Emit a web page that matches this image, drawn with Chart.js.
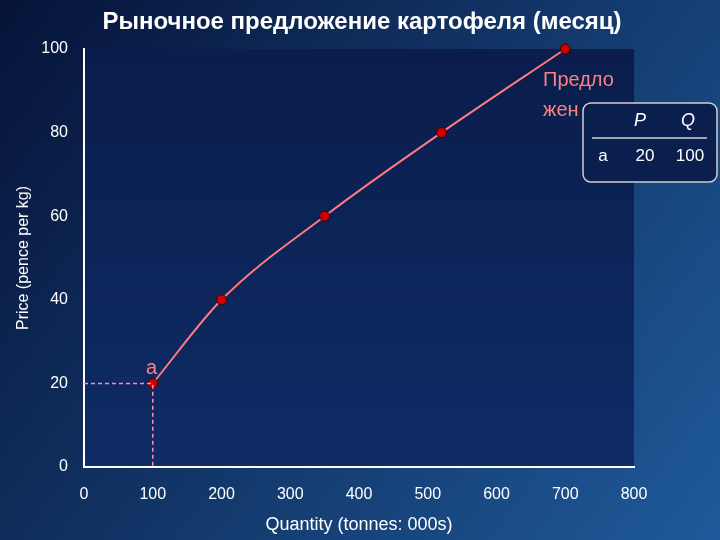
<!DOCTYPE html>
<html><head><meta charset="utf-8">
<script src="https://cdn.jsdelivr.net/npm/chart.js@4"></script>
<style>html,body{margin:0;padding:0;background:#0a1a40}#wrap{width:720px;height:540px}</style>
</head><body><div id="wrap"><canvas id="c" width="720" height="540"></canvas></div>
<script>
const quantity = [100, 200, 350, 520, 700];
const price = [20, 40, 60, 80, 100];
const guideX = [0, 100, 100];
const guideY = [20, 20, 0];
const tableHead = ['P', 'Q'];
const tableRow = ['a', '20', '100'];

const bgPlugin = {
  id: 'bg',
  beforeDraw(chart) {
    const { ctx, chartArea: a, width, height } = chart;
    let g = ctx.createLinearGradient(0, 0, width, height);
    g.addColorStop(0, '#061338');
    g.addColorStop(1, '#1f5a9a');
    ctx.fillStyle = g;
    ctx.fillRect(0, 0, width, height);
    g = ctx.createLinearGradient(0, a.top, 0, a.bottom);
    g.addColorStop(0, '#0a1d4c');
    g.addColorStop(1, '#0f2c66');
    ctx.fillStyle = g;
    ctx.fillRect(a.left, a.top, a.right - a.left, a.bottom - a.top);
  },
  afterDraw(chart) {
    const { ctx } = chart;
    ctx.save();
    ctx.fillStyle = '#ffffff';
    ctx.font = 'bold 24px "Liberation Sans", Arial';
    ctx.textAlign = 'center';
    ctx.textBaseline = 'middle';
    ctx.fillText('Рыночное предложение картофеля (месяц)', 362, 22);
    ctx.fillStyle = '#ff8080';
    ctx.font = '20px "Liberation Sans", Arial';
    ctx.textAlign = 'left';
    ctx.fillText('Предло', 543, 80);
    ctx.fillText('жен', 543, 110);
    ctx.fillText('а', 146, 368);
    ctx.fillStyle = '#0b1f4e';
    ctx.strokeStyle = '#d0d0d0';
    ctx.lineWidth = 1.5;
    ctx.beginPath();
    ctx.roundRect(583, 103, 134, 79, 8);
    ctx.fill();
    ctx.stroke();
    ctx.fillStyle = '#ffffff';
    ctx.textAlign = 'center';
    ctx.font = 'italic 18px "Liberation Sans", Arial';
    ctx.fillText(tableHead[0], 640, 121);
    ctx.fillText(tableHead[1], 688, 121);
    ctx.beginPath();
    ctx.moveTo(592, 138); ctx.lineTo(707, 138); ctx.stroke();
    ctx.font = '17px "Liberation Sans", Arial';
    ctx.fillText(tableRow[0], 603, 156);
    ctx.fillText(tableRow[1], 645, 156);
    ctx.fillText(tableRow[2], 690, 156);
    ctx.restore();
  }
};

new Chart(document.getElementById('c'), {
  type: 'scatter',
  data: {
    datasets: [
      { data: guideX.map((x, i) => ({ x, y: guideY[i] })), showLine: true, borderColor: '#ff8fb0', borderDash: [4, 3], borderWidth: 1.5, pointRadius: 0 },
      { data: quantity.map((x, i) => ({ x, y: price[i] })), showLine: true, clip: false, cubicInterpolationMode: 'monotone', borderColor: '#ff7a80', borderWidth: 2, pointRadius: 5, pointBackgroundColor: '#d00000', pointBorderColor: '#400000', pointBorderWidth: 1 }
    ]
  },
  options: {
    responsive: false, animation: false,
    layout: { padding: { top: 49, right: 86, left: 0, bottom: 0 } },
    plugins: { legend: { display: false }, tooltip: { enabled: false } },
    scales: {
      x: {
        min: 0, max: 800,
        ticks: { stepSize: 100, color: '#ffffff', font: { size: 16, family: 'Liberation Sans' }, padding: 14 },
        grid: { display: false, tickColor: '#ffffff', tickLength: 4 },
        border: { color: '#ffffff', width: 2 },
        title: { display: true, text: 'Quantity (tonnes: 000s)', color: '#ffffff', font: { size: 18, family: 'Liberation Sans' }, padding: { top: 6 } },
        afterFit(s) { s.height = 73; }
      },
      y: {
        min: 0, max: 100,
        ticks: { stepSize: 20, color: '#ffffff', font: { size: 16, family: 'Liberation Sans' }, padding: 12 },
        grid: { display: false, tickColor: '#ffffff', tickLength: 4 },
        border: { color: '#ffffff', width: 2 },
        title: { display: true, text: 'Price (pence per kg)', color: '#ffffff', font: { size: 16, family: 'Liberation Sans' }, padding: { top: 14, bottom: 4 } },
        afterFit(s) { s.width = 84; }
      }
    }
  },
  plugins: [bgPlugin]
});
</script></body></html>
